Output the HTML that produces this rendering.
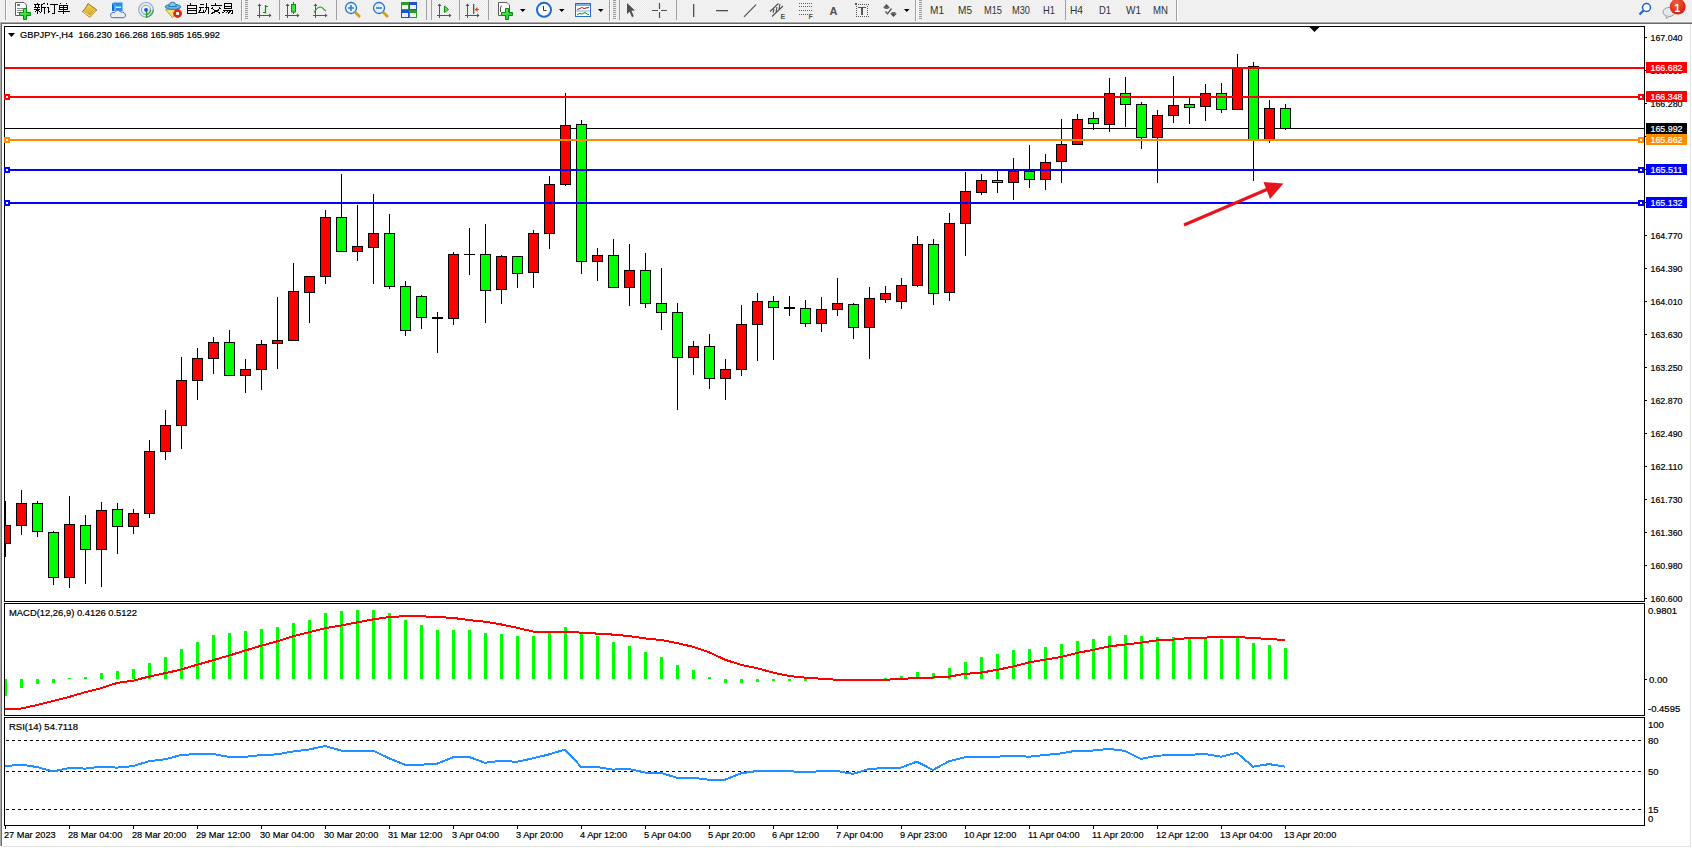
<!DOCTYPE html><html><head><meta charset="utf-8"><style>html,body{margin:0;padding:0;background:#f0f0f0;overflow:hidden;width:1692px;height:848px}svg{display:block}text{font-family:"Liberation Sans",sans-serif}</style></head><body>
<svg width="1692" height="848" viewBox="0 0 1692 848">
<rect x="0" y="0" width="1692" height="848" fill="#f0f0f0"/>
<g id="toolbar">
<defs>
<pattern id="chk" width="2" height="2" patternUnits="userSpaceOnUse"><rect width="2" height="2" fill="#f7f7f7"/><rect width="1" height="1" fill="#e9e9e9"/><rect x="1" y="1" width="1" height="1" fill="#e9e9e9"/></pattern>
<linearGradient id="gplus" x1="0" y1="0" x2="1" y2="1"><stop offset="0" stop-color="#7cf07c"/><stop offset="1" stop-color="#00c800"/></linearGradient>
<linearGradient id="gbook" x1="0" y1="0" x2="0" y2="1"><stop offset="0" stop-color="#f4dc50"/><stop offset="1" stop-color="#c89a20"/></linearGradient>
<radialGradient id="gbadge" cx="0.4" cy="0.3" r="0.7"><stop offset="0" stop-color="#f06040"/><stop offset="1" stop-color="#d42010"/></radialGradient>
</defs>
<!-- separators -->
<g fill="#a0a0a0" shape-rendering="crispEdges">
<rect x="5" y="0" width="1" height="20"/>
<rect x="241" y="0" width="1" height="21"/>
<rect x="279" y="0" width="1" height="20"/>
<rect x="336" y="0" width="1" height="20"/>
<rect x="426" y="0" width="1" height="20"/>
<rect x="431" y="0" width="1" height="20"/>
<rect x="459" y="0" width="1" height="20"/>
<rect x="488" y="0" width="1" height="20"/>
<rect x="609" y="0" width="1" height="21"/>
<rect x="619" y="0" width="1" height="20"/>
<rect x="676" y="0" width="1" height="20"/>
<rect x="915" y="0" width="1" height="21"/>
<rect x="1065" y="0" width="1" height="20"/>
<rect x="1176" y="0" width="1" height="21"/>
</g>
<g fill="#ffffff" shape-rendering="crispEdges">
<rect x="6" y="0" width="1" height="20"/><rect x="242" y="0" width="1" height="21"/><rect x="610" y="0" width="1" height="21"/><rect x="916" y="0" width="1" height="21"/><rect x="1177" y="0" width="1" height="21"/>
</g>
<!-- grips -->
<g fill="#9a9a9a" shape-rendering="crispEdges">
<rect x="245" y="0" width="3" height="1"/><rect x="245" y="2" width="3" height="1"/><rect x="245" y="4" width="3" height="1"/><rect x="245" y="6" width="3" height="1"/><rect x="245" y="8" width="3" height="1"/><rect x="245" y="10" width="3" height="1"/><rect x="245" y="12" width="3" height="1"/><rect x="245" y="14" width="3" height="1"/><rect x="245" y="16" width="3" height="1"/><rect x="245" y="18" width="3" height="1"/>
<rect x="613" y="0" width="3" height="1"/><rect x="613" y="2" width="3" height="1"/><rect x="613" y="4" width="3" height="1"/><rect x="613" y="6" width="3" height="1"/><rect x="613" y="8" width="3" height="1"/><rect x="613" y="10" width="3" height="1"/><rect x="613" y="12" width="3" height="1"/><rect x="613" y="14" width="3" height="1"/><rect x="613" y="16" width="3" height="1"/><rect x="613" y="18" width="3" height="1"/>
<rect x="919" y="0" width="3" height="1"/><rect x="919" y="2" width="3" height="1"/><rect x="919" y="4" width="3" height="1"/><rect x="919" y="6" width="3" height="1"/><rect x="919" y="8" width="3" height="1"/><rect x="919" y="10" width="3" height="1"/><rect x="919" y="12" width="3" height="1"/><rect x="919" y="14" width="3" height="1"/><rect x="919" y="16" width="3" height="1"/><rect x="919" y="18" width="3" height="1"/>
</g>
<!-- pressed backgrounds -->
<rect x="280" y="0" width="25" height="20" fill="url(#chk)"/>
<rect x="432" y="0" width="25" height="20" fill="url(#chk)"/>
<rect x="460" y="0" width="25" height="20" fill="url(#chk)"/>
<rect x="620" y="0" width="25" height="20" fill="url(#chk)"/>
<rect x="1066" y="0" width="25" height="20" fill="url(#chk)"/>

<!-- new order icon -->
<path d="M15.5,2.5 H24 L26.5,5 V15.5 H15.5 Z" fill="#fff" stroke="#5e5e5e" stroke-width="1"/>
<rect x="17" y="4" width="3" height="2" fill="#777"/>
<rect x="17" y="8" width="6" height="1" fill="#888"/><rect x="17" y="10" width="6" height="1" fill="#888"/><rect x="17" y="12" width="4" height="1" fill="#888"/>
<path d="M23.5,8.5 H26.5 V12.5 H30.5 V15.5 H26.5 V19.5 H23.5 V15.5 H19.5 V12.5 H23.5 Z" fill="url(#gplus)" stroke="#0a8a0a" stroke-width="1"/>
<!-- 新订单 -->
<g stroke="#000" stroke-width="1" fill="none" shape-rendering="crispEdges">
<path d="M37.5,3 V4.5 M34,4.5 H40 M35.5,5.5 L36,6.5 M38.5,5.5 L38,6.5 M34,7.5 H40 M34,9.5 H40 M37.5,7.5 V14 M36.5,10.5 L34.5,12.5 M38.5,10.5 L40,12"/>
<path d="M45,3.5 L41.5,4.5 V10 L40.5,13.5 M41.5,7.5 H45.5 M44.5,7.5 V14"/>
<path d="M47,3.5 L48,5 M46.5,7.5 H48.5 V12.5 L50,11"/>
<path d="M50,4.5 H58 M54.5,4.5 V13.5 H52"/>
<path d="M60.5,3 L61.5,4.5 M66.5,3 L65.5,4.5 M59.5,5.5 H67.5 V9.5 H59.5 Z M59.5,7.5 H67.5 M63.5,5.5 V14 M58,11.5 H70"/>
</g>
<!-- book icon -->
<path d="M88,3.5 L96.8,10 L90,17.3 L82.3,11.7 C84.5,9.5 86.5,7 88,3.5 Z" fill="url(#gbook)" stroke="#a86a10" stroke-width="1"/>
<path d="M83.5,12 L90,16.3" stroke="#f2dc90" stroke-width="1.2" fill="none"/>
<path d="M95.5,11 L90,16.5" stroke="#e8dca8" stroke-width="1" fill="none"/>
<!-- server/cloud icon -->
<path d="M112,3 L114.5,2.5 H122.5 V11 H112 Z" fill="#1a90f0"/>
<rect x="112" y="3" width="3" height="8" fill="#0a70d8"/>
<path d="M112.5,3 L115,5.5 V11" stroke="#e0f0ff" stroke-width="0.8" fill="none"/>
<rect x="116" y="6.5" width="5" height="1.5" fill="#d8ecff"/>
<path d="M110.5,15.5 C110.5,13 112.5,12 114.5,12.5 C115.5,10 119.5,9.5 120.5,12 C123,11.5 125.8,13 125.5,15.8 C125.3,17.3 124,17.7 123,17.7 H112.5 C111,17.7 110.5,16.8 110.5,15.5 Z" fill="#e8ecf4" stroke="#4a68a8" stroke-width="1"/>
<!-- signal icon -->
<path d="M146,9.8 V17.1 A7.3,7.3 0 0 0 153.3,9.8 Z" fill="#c0e4c0" opacity="0.8"/>
<g fill="none" stroke-width="1.1">
<circle cx="146" cy="9.8" r="7.3" stroke="#8aa8d8"/>
<circle cx="146" cy="9.8" r="4.6" stroke="#7aa0d0"/>
</g>
<path d="M146,17.1 A7.3,7.3 0 0 0 153.3,9.8 M146,14.4 A4.6,4.6 0 0 0 150.6,9.8" fill="none" stroke="#4a9a4a" stroke-width="1.1"/>
<path d="M146.5,10 V17.8" fill="none" stroke="#18a018" stroke-width="1.3"/>
<circle cx="146" cy="9.8" r="1.9" fill="#2050c0"/>
<!-- auto trading icon -->
<path d="M165.5,9.5 L179.5,8.5 L172.5,17.8 Z" fill="#f4e070" stroke="#c8a020" stroke-width="1"/>
<ellipse cx="173" cy="6.8" rx="7.8" ry="2.6" fill="#68b4e4" stroke="#2a7aa8" stroke-width="1"/>
<path d="M168.8,6.5 C169,3.5 170.5,2.2 172.5,2.2 C174.5,2.2 176,3.5 176.2,6.5 Z" fill="#7cc4ec" stroke="#2a7aa8" stroke-width="1"/>
<circle cx="177.6" cy="13.5" r="4.4" fill="#e02a10"/>
<rect x="176.2" y="12" width="2.8" height="3" fill="#fff"/>
<!-- 自动交易 -->
<g stroke="#000" stroke-width="1" fill="none" shape-rendering="crispEdges">
<path d="M190.5,3 V4.5 M187.5,5.5 H196.5 V13.5 H187.5 Z M187.5,8 H196.5 M187.5,10.5 H196.5"/>
<path d="M199.5,4.5 H203.5 M198.5,7.5 H204 M201,8.5 L199,12.5 H203.5 M203,10.5 L204,12 M204.5,7.5 H208.5 V13.5 H207.5 M206.5,3 V9 L204.5,13.5"/>
<path d="M215.5,3 V4.5 M210.5,5.5 H221.5 M213,7.5 L211.5,9 M219,7.5 L220.5,9 M213,9.5 L220.5,13.5 M219.5,9.5 L211.5,13.5"/>
<path d="M224.5,3.5 H231.5 V8.5 H224.5 Z M224.5,6 H231.5 M223,10 H232.5 V13.5 H231 M225.5,10.5 L222.5,13 M228.5,10.5 L225.5,13.5 M231,10.5 L228,13.5"/>
</g>
<!-- chart type icons -->
<g fill="none" stroke="#555" stroke-width="1.2" shape-rendering="crispEdges">
<path d="M259.5,4.5 V17.5 M257,15.5 H271"/>
<path d="M287.5,4.5 V17.5 M285,15.5 H299"/>
<path d="M315.5,4.5 V17.5 M313,15.5 H327"/>
<path d="M439.5,4.5 V17.5 M437,15.5 H451"/>
<path d="M467.5,4.5 V17.5 M465,15.5 H479"/>
</g>
<g fill="#555">
<path d="M257.5,6 L259.5,3.5 L261.5,6 Z M269,13.5 L271.5,15.5 L269,17.5 Z"/>
<path d="M285.5,6 L287.5,3.5 L289.5,6 Z M297,13.5 L299.5,15.5 L297,17.5 Z"/>
<path d="M313.5,6 L315.5,3.5 L317.5,6 Z M325,13.5 L327.5,15.5 L325,17.5 Z"/>
<path d="M437.5,6 L439.5,3.5 L441.5,6 Z M449,13.5 L451.5,15.5 L449,17.5 Z"/>
<path d="M465.5,6 L467.5,3.5 L469.5,6 Z M477,13.5 L479.5,15.5 L477,17.5 Z"/>
</g>
<path d="M265.5,5 V13.5 M263,12.5 H265.5 M265.5,6.5 H268" fill="none" stroke="#109010" stroke-width="1.2"/>
<rect x="293" y="2" width="1" height="12" fill="#109010"/>
<rect x="291.5" y="4.5" width="4" height="7.5" fill="#40e040" stroke="#109010" stroke-width="1"/>
<path d="M314,12.5 C316,9 318,7 320.5,7 C322.5,7 324,10 326,11" fill="none" stroke="#20a020" stroke-width="1.2"/>
<path d="M444.5,6 L448.5,9.5 L444.5,12.5 Z" fill="#50e050" stroke="#109010" stroke-width="1"/>
<rect x="473" y="4" width="1.3" height="10" fill="#1a6aa0"/>
<path d="M474.5,9.5 L477.5,7 V9 H479 V10 H477.5 V12 Z" fill="#e05010"/>
<!-- zoom icons -->
<g>
<circle cx="351" cy="8" r="5.5" fill="#dff2ff" stroke="#2a70c8" stroke-width="1.3"/>
<path d="M355,12 L360,17" stroke="#c8a020" stroke-width="2.6"/>
<path d="M348,8 H354 M351,5 V11" stroke="#3a80b8" stroke-width="1.6"/>
<circle cx="379" cy="8" r="5.5" fill="#dff2ff" stroke="#2a70c8" stroke-width="1.3"/>
<path d="M383,12 L388,17" stroke="#c8a020" stroke-width="2.6"/>
<path d="M376,8 H382" stroke="#3a80b8" stroke-width="1.6"/>
</g>
<!-- tile windows -->
<g shape-rendering="crispEdges">
<rect x="401" y="2" width="8" height="8" fill="#2a9a2a"/><rect x="409" y="2" width="8" height="8" fill="#2050d0"/>
<rect x="401" y="10" width="8" height="8" fill="#2050d0"/><rect x="409" y="10" width="8" height="8" fill="#2a9a2a"/>
<rect x="402" y="5" width="6" height="4" fill="#e8f8e8"/><rect x="410" y="5" width="6" height="4" fill="#e8eefc"/>
<rect x="402" y="13" width="6" height="4" fill="#e8eefc"/><rect x="410" y="13" width="6" height="4" fill="#e8f8e8"/>
</g>
<!-- indicators icon -->
<path d="M498.5,2.5 H507 L509.5,5 V15.5 H498.5 Z" fill="#fff" stroke="#5e5e5e" stroke-width="1"/>
<path d="M502,6 Q500.5,6 500.5,8 V12" fill="none" stroke="#555" stroke-width="1"/>
<path d="M505.5,8.5 H508.5 V12.5 H512.5 V15.5 H508.5 V19.5 H505.5 V15.5 H501.5 V12.5 H505.5 Z" fill="url(#gplus)" stroke="#0a8a0a" stroke-width="1"/>
<path d="M520,9 H525.5 L522.75,12 Z M559,9 H564.5 L561.75,12 Z M598,9 H603.5 L600.75,12 Z M904,9 H909.5 L906.75,12 Z" fill="#000"/>
<!-- clock -->
<circle cx="544" cy="9.8" r="7" fill="#fff" stroke="#1a6ad0" stroke-width="2"/>
<path d="M543.5,6 V10.5 H546.5" fill="none" stroke="#333" stroke-width="1"/>
<!-- templates -->
<rect x="575.5" y="3.5" width="15" height="13" fill="#fff" stroke="#2a6ac8" stroke-width="1"/>
<rect x="576" y="4" width="14" height="2" fill="#7ab0e8"/>
<rect x="576" y="10.5" width="14" height="1" fill="#7ab0e8"/>
<path d="M577,9.5 L580,8.5 L582,7.5 L584,8.5 L586,8 L589,7.5" fill="none" stroke="#a02010" stroke-width="1"/>
<path d="M577,14.5 L580,13.5 L582,14 L585,12.5 L587,14 L589,14.5" fill="none" stroke="#109010" stroke-width="1"/>
<!-- cursor -->
<path d="M627,3 L635,10.6 L631.5,10.8 L633.8,16.3 L632,17.2 L629.6,11.7 L627,14 Z" fill="#505050"/>
<!-- crosshair -->
<path d="M652,10.5 H658 M661,10.5 H667 M659.5,3 V9 M659.5,12 V18" fill="none" stroke="#505050" stroke-width="1.2"/>
<!-- line tools -->
<rect x="693" y="4" width="1.3" height="13" fill="#505050"/>
<rect x="716" y="10" width="12" height="1.3" fill="#505050"/>
<path d="M744,16.8 L756,4.6" stroke="#505050" stroke-width="1.2"/>
<path d="M770,11.5 L778.5,3.5 M772,16.5 L783,6 M773,13 L774,9 M776,12 L777,7 M779,9 L780,4" stroke="#505050" stroke-width="1.1" fill="none"/>
<text x="780.5" y="19" font-size="7" font-weight="bold" fill="#505050">E</text>
<g fill="#606060" shape-rendering="crispEdges">
<rect x="799" y="3" width="1" height="1"/><rect x="801" y="3" width="1" height="1"/><rect x="803" y="3" width="1" height="1"/><rect x="805" y="3" width="1" height="1"/><rect x="807" y="3" width="1" height="1"/><rect x="809" y="3" width="1" height="1"/><rect x="811" y="3" width="1" height="1"/>
<rect x="799" y="6" width="1" height="1"/><rect x="801" y="6" width="1" height="1"/><rect x="803" y="6" width="1" height="1"/><rect x="805" y="6" width="1" height="1"/><rect x="807" y="6" width="1" height="1"/><rect x="809" y="6" width="1" height="1"/><rect x="811" y="6" width="1" height="1"/>
<rect x="799" y="10" width="1" height="1"/><rect x="801" y="10" width="1" height="1"/><rect x="803" y="10" width="1" height="1"/><rect x="805" y="10" width="1" height="1"/><rect x="807" y="10" width="1" height="1"/><rect x="809" y="10" width="1" height="1"/><rect x="811" y="10" width="1" height="1"/>
<rect x="799" y="14" width="1" height="1"/><rect x="801" y="14" width="1" height="1"/><rect x="803" y="14" width="1" height="1"/><rect x="805" y="14" width="1" height="1"/><rect x="807" y="14" width="1" height="1"/>
</g>
<text x="808.5" y="19" font-size="7" font-weight="bold" fill="#505050">F</text>
<text x="829.5" y="15" font-size="11" font-weight="bold" fill="#505050">A</text>
<g fill="#555" shape-rendering="crispEdges"><rect x="856" y="4" width="1" height="1"/><rect x="856" y="16" width="1" height="1"/><rect x="858" y="4" width="1" height="1"/><rect x="858" y="16" width="1" height="1"/><rect x="860" y="4" width="1" height="1"/><rect x="860" y="16" width="1" height="1"/><rect x="862" y="4" width="1" height="1"/><rect x="862" y="16" width="1" height="1"/><rect x="864" y="4" width="1" height="1"/><rect x="864" y="16" width="1" height="1"/><rect x="866" y="4" width="1" height="1"/><rect x="866" y="16" width="1" height="1"/><rect x="868" y="4" width="1" height="1"/><rect x="868" y="16" width="1" height="1"/><rect x="856" y="6" width="1" height="1"/><rect x="867" y="6" width="1" height="1"/><rect x="856" y="8" width="1" height="1"/><rect x="867" y="8" width="1" height="1"/><rect x="856" y="10" width="1" height="1"/><rect x="867" y="10" width="1" height="1"/><rect x="856" y="12" width="1" height="1"/><rect x="867" y="12" width="1" height="1"/><rect x="856" y="14" width="1" height="1"/><rect x="867" y="14" width="1" height="1"/><rect x="855" y="3" width="2" height="2"/><rect x="858" y="7" width="8" height="1.3"/><rect x="861" y="7" width="2" height="8"/></g>
<path d="M883,7.8 L886.5,4 L890,7.8 Z M890,13.5 L897,13.5 L893.5,17 Z" fill="#505050"/><rect x="884.5" y="7.5" width="4" height="1.3" fill="#505050"/><rect x="891.5" y="12.2" width="4" height="1.5" fill="#505050"/>
<path d="M885.5,11.5 L887.5,13.8 L891.5,8.5" fill="none" stroke="#505050" stroke-width="1.3"/>
<!-- timeframes -->
<g font-size="10.5" fill="#333">
<text x="930" y="14" textLength="14" lengthAdjust="spacingAndGlyphs">M1</text>
<text x="958" y="14" textLength="14" lengthAdjust="spacingAndGlyphs">M5</text>
<text x="984" y="14" textLength="18" lengthAdjust="spacingAndGlyphs">M15</text>
<text x="1012" y="14" textLength="18" lengthAdjust="spacingAndGlyphs">M30</text>
<text x="1043" y="14" textLength="12" lengthAdjust="spacingAndGlyphs">H1</text>
<text x="1070" y="14" textLength="13" lengthAdjust="spacingAndGlyphs">H4</text>
<text x="1099" y="14" textLength="12" lengthAdjust="spacingAndGlyphs">D1</text>
<text x="1126" y="14" textLength="15" lengthAdjust="spacingAndGlyphs">W1</text>
<text x="1153" y="14" textLength="15" lengthAdjust="spacingAndGlyphs">MN</text>
</g>
<!-- search and chat -->
<circle cx="1646.5" cy="7.5" r="4" fill="#fff" stroke="#1f5fd6" stroke-width="1.5"/>
<path d="M1643.5,10.5 L1639.5,14.5" stroke="#1f5fd6" stroke-width="2.2"/>
<ellipse cx="1669" cy="12" rx="6" ry="4.5" fill="#e6e6ee" stroke="#9a9a9a" stroke-width="1"/>
<path d="M1666,16 L1666.5,18.5 L1669,16.3" fill="#e6e6ee" stroke="#9a9a9a" stroke-width="1"/>
<circle cx="1677.7" cy="6.6" r="8" fill="url(#gbadge)"/>
<text x="1674.5" y="11.5" font-size="10" font-weight="bold" fill="#fff" font-family="Liberation Serif">1</text>
</g>

<rect x="0" y="21" width="1692" height="1" fill="#f7f7f7"/>
<rect x="0" y="22" width="1692" height="1" fill="#a6a6a6"/>
<rect x="0" y="23" width="1692" height="1" fill="#6b6b6b"/>
<rect x="0" y="24" width="1692" height="824" fill="#ffffff"/>
<rect x="0" y="22" width="1" height="824" fill="#a9a9a9"/>
<rect x="1" y="23" width="1" height="823" fill="#6b6b6b"/>
<rect x="1690" y="24" width="1" height="823" fill="#e3e3e3"/>
<rect x="2" y="846" width="1689" height="1" fill="#e3e3e3"/>
<rect x="4.5" y="26.5" width="1640" height="575" fill="none" stroke="#000" stroke-width="1" shape-rendering="crispEdges"/>
<rect x="4.5" y="603.5" width="1640" height="112" fill="none" stroke="#000" stroke-width="1" shape-rendering="crispEdges"/>
<rect x="4.5" y="717.5" width="1640" height="108" fill="none" stroke="#000" stroke-width="1" shape-rendering="crispEdges"/>
<defs><clipPath id="cm"><rect x="5" y="27" width="1639" height="574"/></clipPath><clipPath id="cmacd"><rect x="5" y="604" width="1639" height="111"/></clipPath><clipPath id="crsi"><rect x="5" y="718" width="1639" height="107"/></clipPath></defs>
<g clip-path="url(#cm)" shape-rendering="crispEdges">
<rect x="5" y="128" width="1639" height="1" fill="#000"/>
<rect x="5" y="501" width="1" height="56" fill="#000"/>
<rect x="0.5" y="525.5" width="10" height="18" fill="#ff0000" stroke="#000" stroke-width="1"/>
<rect x="21" y="490" width="1" height="45" fill="#000"/>
<rect x="16.5" y="503.5" width="10" height="22" fill="#ff0000" stroke="#000" stroke-width="1"/>
<rect x="37" y="501" width="1" height="36" fill="#000"/>
<rect x="32.5" y="503.5" width="10" height="28" fill="#00ff00" stroke="#000" stroke-width="1"/>
<rect x="53" y="531" width="1" height="54" fill="#000"/>
<rect x="48.5" y="532.5" width="10" height="45" fill="#00ff00" stroke="#000" stroke-width="1"/>
<rect x="69" y="496" width="1" height="92" fill="#000"/>
<rect x="64.5" y="524.5" width="10" height="53" fill="#ff0000" stroke="#000" stroke-width="1"/>
<rect x="85" y="515" width="1" height="69" fill="#000"/>
<rect x="80.5" y="525.5" width="10" height="24" fill="#00ff00" stroke="#000" stroke-width="1"/>
<rect x="101" y="502" width="1" height="85" fill="#000"/>
<rect x="96.5" y="510.5" width="10" height="39" fill="#ff0000" stroke="#000" stroke-width="1"/>
<rect x="117" y="503" width="1" height="51" fill="#000"/>
<rect x="112.5" y="509.5" width="10" height="17" fill="#00ff00" stroke="#000" stroke-width="1"/>
<rect x="133" y="509" width="1" height="25" fill="#000"/>
<rect x="128.5" y="513.5" width="10" height="13" fill="#ff0000" stroke="#000" stroke-width="1"/>
<rect x="149" y="440" width="1" height="78" fill="#000"/>
<rect x="144.5" y="451.5" width="10" height="62" fill="#ff0000" stroke="#000" stroke-width="1"/>
<rect x="165" y="410" width="1" height="50" fill="#000"/>
<rect x="160.5" y="425.5" width="10" height="26" fill="#ff0000" stroke="#000" stroke-width="1"/>
<rect x="181" y="357" width="1" height="92" fill="#000"/>
<rect x="176.5" y="380.5" width="10" height="45" fill="#ff0000" stroke="#000" stroke-width="1"/>
<rect x="197" y="348" width="1" height="52" fill="#000"/>
<rect x="192.5" y="358.5" width="10" height="22" fill="#ff0000" stroke="#000" stroke-width="1"/>
<rect x="213" y="337" width="1" height="37" fill="#000"/>
<rect x="208.5" y="342.5" width="10" height="16" fill="#ff0000" stroke="#000" stroke-width="1"/>
<rect x="229" y="330" width="1" height="45" fill="#000"/>
<rect x="224.5" y="342.5" width="10" height="33" fill="#00ff00" stroke="#000" stroke-width="1"/>
<rect x="245" y="359" width="1" height="34" fill="#000"/>
<rect x="240.5" y="369.5" width="10" height="6" fill="#ff0000" stroke="#000" stroke-width="1"/>
<rect x="261" y="340" width="1" height="50" fill="#000"/>
<rect x="256.5" y="344.5" width="10" height="25" fill="#ff0000" stroke="#000" stroke-width="1"/>
<rect x="277" y="297" width="1" height="72" fill="#000"/>
<rect x="272.5" y="340.5" width="10" height="3" fill="#ff0000" stroke="#000" stroke-width="1"/>
<rect x="293" y="263" width="1" height="77" fill="#000"/>
<rect x="288.5" y="291.5" width="10" height="49" fill="#ff0000" stroke="#000" stroke-width="1"/>
<rect x="309" y="276" width="1" height="47" fill="#000"/>
<rect x="304.5" y="276.5" width="10" height="16" fill="#ff0000" stroke="#000" stroke-width="1"/>
<rect x="325" y="210" width="1" height="74" fill="#000"/>
<rect x="320.5" y="217.5" width="10" height="59" fill="#ff0000" stroke="#000" stroke-width="1"/>
<rect x="341" y="174" width="1" height="77" fill="#000"/>
<rect x="336.5" y="217.5" width="10" height="34" fill="#00ff00" stroke="#000" stroke-width="1"/>
<rect x="357" y="205" width="1" height="56" fill="#000"/>
<rect x="352.5" y="246.5" width="10" height="5" fill="#ff0000" stroke="#000" stroke-width="1"/>
<rect x="373" y="194" width="1" height="90" fill="#000"/>
<rect x="368.5" y="233.5" width="10" height="14" fill="#ff0000" stroke="#000" stroke-width="1"/>
<rect x="389" y="214" width="1" height="75" fill="#000"/>
<rect x="384.5" y="233.5" width="10" height="53" fill="#00ff00" stroke="#000" stroke-width="1"/>
<rect x="405" y="281" width="1" height="55" fill="#000"/>
<rect x="400.5" y="286.5" width="10" height="44" fill="#00ff00" stroke="#000" stroke-width="1"/>
<rect x="421" y="295" width="1" height="34" fill="#000"/>
<rect x="416.5" y="296.5" width="10" height="21" fill="#00ff00" stroke="#000" stroke-width="1"/>
<rect x="437" y="312" width="1" height="41" fill="#000"/>
<rect x="432" y="317" width="11" height="2" fill="#000"/>
<rect x="453" y="252" width="1" height="73" fill="#000"/>
<rect x="448.5" y="254.5" width="10" height="64" fill="#ff0000" stroke="#000" stroke-width="1"/>
<rect x="469" y="228" width="1" height="47" fill="#000"/>
<rect x="464" y="254" width="11" height="1" fill="#000"/>
<rect x="485" y="224" width="1" height="99" fill="#000"/>
<rect x="480.5" y="254.5" width="10" height="36" fill="#00ff00" stroke="#000" stroke-width="1"/>
<rect x="501" y="255" width="1" height="49" fill="#000"/>
<rect x="496.5" y="256.5" width="10" height="33" fill="#ff0000" stroke="#000" stroke-width="1"/>
<rect x="517" y="256" width="1" height="32" fill="#000"/>
<rect x="512.5" y="256.5" width="10" height="17" fill="#00ff00" stroke="#000" stroke-width="1"/>
<rect x="533" y="230" width="1" height="58" fill="#000"/>
<rect x="528.5" y="233.5" width="10" height="39" fill="#ff0000" stroke="#000" stroke-width="1"/>
<rect x="549" y="176" width="1" height="73" fill="#000"/>
<rect x="544.5" y="184.5" width="10" height="49" fill="#ff0000" stroke="#000" stroke-width="1"/>
<rect x="565" y="93" width="1" height="93" fill="#000"/>
<rect x="560.5" y="125.5" width="10" height="59" fill="#ff0000" stroke="#000" stroke-width="1"/>
<rect x="581" y="120" width="1" height="154" fill="#000"/>
<rect x="576.5" y="124.5" width="10" height="137" fill="#00ff00" stroke="#000" stroke-width="1"/>
<rect x="597" y="248" width="1" height="33" fill="#000"/>
<rect x="592.5" y="255.5" width="10" height="6" fill="#ff0000" stroke="#000" stroke-width="1"/>
<rect x="613" y="239" width="1" height="48" fill="#000"/>
<rect x="608.5" y="255.5" width="10" height="32" fill="#00ff00" stroke="#000" stroke-width="1"/>
<rect x="629" y="244" width="1" height="62" fill="#000"/>
<rect x="624.5" y="270.5" width="10" height="17" fill="#ff0000" stroke="#000" stroke-width="1"/>
<rect x="645" y="253" width="1" height="55" fill="#000"/>
<rect x="640.5" y="270.5" width="10" height="33" fill="#00ff00" stroke="#000" stroke-width="1"/>
<rect x="661" y="268" width="1" height="62" fill="#000"/>
<rect x="656.5" y="303.5" width="10" height="9" fill="#00ff00" stroke="#000" stroke-width="1"/>
<rect x="677" y="303" width="1" height="107" fill="#000"/>
<rect x="672.5" y="312.5" width="10" height="45" fill="#00ff00" stroke="#000" stroke-width="1"/>
<rect x="693" y="341" width="1" height="34" fill="#000"/>
<rect x="688.5" y="346.5" width="10" height="11" fill="#ff0000" stroke="#000" stroke-width="1"/>
<rect x="709" y="334" width="1" height="55" fill="#000"/>
<rect x="704.5" y="346.5" width="10" height="32" fill="#00ff00" stroke="#000" stroke-width="1"/>
<rect x="725" y="359" width="1" height="41" fill="#000"/>
<rect x="720.5" y="369.5" width="10" height="9" fill="#ff0000" stroke="#000" stroke-width="1"/>
<rect x="741" y="305" width="1" height="71" fill="#000"/>
<rect x="736.5" y="324.5" width="10" height="45" fill="#ff0000" stroke="#000" stroke-width="1"/>
<rect x="757" y="293" width="1" height="68" fill="#000"/>
<rect x="752.5" y="301.5" width="10" height="23" fill="#ff0000" stroke="#000" stroke-width="1"/>
<rect x="773" y="296" width="1" height="64" fill="#000"/>
<rect x="768.5" y="301.5" width="10" height="6" fill="#00ff00" stroke="#000" stroke-width="1"/>
<rect x="789" y="296" width="1" height="20" fill="#000"/>
<rect x="784" y="307" width="11" height="2" fill="#000"/>
<rect x="805" y="300" width="1" height="27" fill="#000"/>
<rect x="800.5" y="308.5" width="10" height="15" fill="#00ff00" stroke="#000" stroke-width="1"/>
<rect x="821" y="297" width="1" height="35" fill="#000"/>
<rect x="816.5" y="309.5" width="10" height="14" fill="#ff0000" stroke="#000" stroke-width="1"/>
<rect x="837" y="278" width="1" height="38" fill="#000"/>
<rect x="832.5" y="303.5" width="10" height="6" fill="#ff0000" stroke="#000" stroke-width="1"/>
<rect x="853" y="303" width="1" height="36" fill="#000"/>
<rect x="848.5" y="304.5" width="10" height="23" fill="#00ff00" stroke="#000" stroke-width="1"/>
<rect x="869" y="287" width="1" height="72" fill="#000"/>
<rect x="864.5" y="298.5" width="10" height="29" fill="#ff0000" stroke="#000" stroke-width="1"/>
<rect x="885" y="286" width="1" height="17" fill="#000"/>
<rect x="880.5" y="293.5" width="10" height="6" fill="#ff0000" stroke="#000" stroke-width="1"/>
<rect x="901" y="278" width="1" height="31" fill="#000"/>
<rect x="896.5" y="285.5" width="10" height="16" fill="#ff0000" stroke="#000" stroke-width="1"/>
<rect x="917" y="236" width="1" height="51" fill="#000"/>
<rect x="912.5" y="244.5" width="10" height="41" fill="#ff0000" stroke="#000" stroke-width="1"/>
<rect x="933" y="239" width="1" height="66" fill="#000"/>
<rect x="928.5" y="244.5" width="10" height="49" fill="#00ff00" stroke="#000" stroke-width="1"/>
<rect x="949" y="213" width="1" height="88" fill="#000"/>
<rect x="944.5" y="223.5" width="10" height="69" fill="#ff0000" stroke="#000" stroke-width="1"/>
<rect x="965" y="172" width="1" height="84" fill="#000"/>
<rect x="960.5" y="191.5" width="10" height="32" fill="#ff0000" stroke="#000" stroke-width="1"/>
<rect x="981" y="174" width="1" height="21" fill="#000"/>
<rect x="976.5" y="180.5" width="10" height="12" fill="#ff0000" stroke="#000" stroke-width="1"/>
<rect x="997" y="171" width="1" height="22" fill="#000"/>
<rect x="992.5" y="180.5" width="10" height="2" fill="#00ff00" stroke="#000" stroke-width="1"/>
<rect x="1013" y="158" width="1" height="42" fill="#000"/>
<rect x="1008.5" y="171.5" width="10" height="11" fill="#ff0000" stroke="#000" stroke-width="1"/>
<rect x="1029" y="145" width="1" height="43" fill="#000"/>
<rect x="1024.5" y="171.5" width="10" height="8" fill="#00ff00" stroke="#000" stroke-width="1"/>
<rect x="1045" y="154" width="1" height="36" fill="#000"/>
<rect x="1040.5" y="162.5" width="10" height="17" fill="#ff0000" stroke="#000" stroke-width="1"/>
<rect x="1061" y="119" width="1" height="64" fill="#000"/>
<rect x="1056.5" y="144.5" width="10" height="17" fill="#ff0000" stroke="#000" stroke-width="1"/>
<rect x="1077" y="114" width="1" height="30" fill="#000"/>
<rect x="1072.5" y="119.5" width="10" height="25" fill="#ff0000" stroke="#000" stroke-width="1"/>
<rect x="1093" y="112" width="1" height="18" fill="#000"/>
<rect x="1088.5" y="118.5" width="10" height="5" fill="#00ff00" stroke="#000" stroke-width="1"/>
<rect x="1109" y="78" width="1" height="54" fill="#000"/>
<rect x="1104.5" y="93.5" width="10" height="31" fill="#ff0000" stroke="#000" stroke-width="1"/>
<rect x="1125" y="77" width="1" height="50" fill="#000"/>
<rect x="1120.5" y="93.5" width="10" height="11" fill="#00ff00" stroke="#000" stroke-width="1"/>
<rect x="1141" y="102" width="1" height="47" fill="#000"/>
<rect x="1136.5" y="104.5" width="10" height="33" fill="#00ff00" stroke="#000" stroke-width="1"/>
<rect x="1157" y="110" width="1" height="73" fill="#000"/>
<rect x="1152.5" y="115.5" width="10" height="22" fill="#ff0000" stroke="#000" stroke-width="1"/>
<rect x="1173" y="76" width="1" height="47" fill="#000"/>
<rect x="1168.5" y="105.5" width="10" height="10" fill="#ff0000" stroke="#000" stroke-width="1"/>
<rect x="1189" y="98" width="1" height="26" fill="#000"/>
<rect x="1184.5" y="104.5" width="10" height="3" fill="#00ff00" stroke="#000" stroke-width="1"/>
<rect x="1205" y="84" width="1" height="37" fill="#000"/>
<rect x="1200.5" y="93.5" width="10" height="13" fill="#ff0000" stroke="#000" stroke-width="1"/>
<rect x="1221" y="83" width="1" height="30" fill="#000"/>
<rect x="1216.5" y="93.5" width="10" height="16" fill="#00ff00" stroke="#000" stroke-width="1"/>
<rect x="1237" y="54" width="1" height="55" fill="#000"/>
<rect x="1232.5" y="67.5" width="10" height="42" fill="#ff0000" stroke="#000" stroke-width="1"/>
<rect x="1253" y="62" width="1" height="119" fill="#000"/>
<rect x="1248.5" y="66.5" width="10" height="73" fill="#00ff00" stroke="#000" stroke-width="1"/>
<rect x="1269" y="100" width="1" height="43" fill="#000"/>
<rect x="1264.5" y="108.5" width="10" height="31" fill="#ff0000" stroke="#000" stroke-width="1"/>
<rect x="1285" y="104" width="1" height="26" fill="#000"/>
<rect x="1280.5" y="108.5" width="10" height="20" fill="#00ff00" stroke="#000" stroke-width="1"/>
<rect x="5" y="67" width="1639" height="2" fill="#ff0000"/>
<rect x="5" y="96" width="1639" height="2" fill="#ff0000"/>
<rect x="1638" y="94" width="6" height="6" fill="#ff0000"/><rect x="1640" y="96" width="2" height="2" fill="#fff"/>
<rect x="5" y="139" width="1639" height="2" fill="#ff8c00"/>
<rect x="1638" y="137" width="6" height="6" fill="#ff8c00"/><rect x="1640" y="139" width="2" height="2" fill="#fff"/>
<rect x="5" y="169" width="1639" height="2" fill="#0000ff"/>
<rect x="1638" y="167" width="6" height="6" fill="#0000ff"/><rect x="1640" y="169" width="2" height="2" fill="#fff"/>
<rect x="5" y="202" width="1639" height="2" fill="#0000ff"/>
<rect x="1638" y="200" width="6" height="6" fill="#0000ff"/><rect x="1640" y="202" width="2" height="2" fill="#fff"/>
<polygon points="1309.5,27 1319.5,27 1314.5,32" fill="#000" shape-rendering="auto"/>
</g>
<g shape-rendering="crispEdges"><rect x="4" y="94" width="6" height="6" fill="#ff0000"/><rect x="6" y="96" width="2" height="2" fill="#fff"/><rect x="4" y="137" width="6" height="6" fill="#ff8c00"/><rect x="6" y="139" width="2" height="2" fill="#fff"/><rect x="4" y="167" width="6" height="6" fill="#0000ff"/><rect x="6" y="169" width="2" height="2" fill="#fff"/><rect x="4" y="200" width="6" height="6" fill="#0000ff"/><rect x="6" y="202" width="2" height="2" fill="#fff"/></g>
<g shape-rendering="auto"><line x1="1184" y1="225" x2="1268" y2="189" stroke="#e8141c" stroke-width="3"/><polygon points="1263.5,182 1283.5,183.5 1270,199" fill="#e8141c"/></g>
<polygon points="8,33 15,33 11.5,37" fill="#000"/>
<text x="20" y="38" font-size="9.5" fill="#000" stroke="#000" stroke-width="0.2" textLength="200" lengthAdjust="spacingAndGlyphs">GBPJPY-,H4&#160; 166.230 166.268 165.985 165.992</text>
<rect x="1645" y="37" width="2" height="1" fill="#000"/>
<text x="1650.5" y="41" font-size="9.5" fill="#000" stroke="#000" stroke-width="0.2" textLength="32" lengthAdjust="spacingAndGlyphs">167.040</text>
<rect x="1645" y="70" width="2" height="1" fill="#000"/>
<text x="1650.5" y="74" font-size="9.5" fill="#000" stroke="#000" stroke-width="0.2" textLength="32" lengthAdjust="spacingAndGlyphs">166.660</text>
<rect x="1645" y="103" width="2" height="1" fill="#000"/>
<text x="1650.5" y="107" font-size="9.5" fill="#000" stroke="#000" stroke-width="0.2" textLength="32" lengthAdjust="spacingAndGlyphs">166.280</text>
<rect x="1645" y="136" width="2" height="1" fill="#000"/>
<text x="1650.5" y="140" font-size="9.5" fill="#000" stroke="#000" stroke-width="0.2" textLength="32" lengthAdjust="spacingAndGlyphs">165.900</text>
<rect x="1645" y="169" width="2" height="1" fill="#000"/>
<text x="1650.5" y="173" font-size="9.5" fill="#000" stroke="#000" stroke-width="0.2" textLength="32" lengthAdjust="spacingAndGlyphs">165.520</text>
<rect x="1645" y="202" width="2" height="1" fill="#000"/>
<text x="1650.5" y="206" font-size="9.5" fill="#000" stroke="#000" stroke-width="0.2" textLength="32" lengthAdjust="spacingAndGlyphs">165.140</text>
<rect x="1645" y="235" width="2" height="1" fill="#000"/>
<text x="1650.5" y="239" font-size="9.5" fill="#000" stroke="#000" stroke-width="0.2" textLength="32" lengthAdjust="spacingAndGlyphs">164.770</text>
<rect x="1645" y="268" width="2" height="1" fill="#000"/>
<text x="1650.5" y="272" font-size="9.5" fill="#000" stroke="#000" stroke-width="0.2" textLength="32" lengthAdjust="spacingAndGlyphs">164.390</text>
<rect x="1645" y="301" width="2" height="1" fill="#000"/>
<text x="1650.5" y="305" font-size="9.5" fill="#000" stroke="#000" stroke-width="0.2" textLength="32" lengthAdjust="spacingAndGlyphs">164.010</text>
<rect x="1645" y="334" width="2" height="1" fill="#000"/>
<text x="1650.5" y="338" font-size="9.5" fill="#000" stroke="#000" stroke-width="0.2" textLength="32" lengthAdjust="spacingAndGlyphs">163.630</text>
<rect x="1645" y="367" width="2" height="1" fill="#000"/>
<text x="1650.5" y="371" font-size="9.5" fill="#000" stroke="#000" stroke-width="0.2" textLength="32" lengthAdjust="spacingAndGlyphs">163.250</text>
<rect x="1645" y="400" width="2" height="1" fill="#000"/>
<text x="1650.5" y="404" font-size="9.5" fill="#000" stroke="#000" stroke-width="0.2" textLength="32" lengthAdjust="spacingAndGlyphs">162.870</text>
<rect x="1645" y="433" width="2" height="1" fill="#000"/>
<text x="1650.5" y="437" font-size="9.5" fill="#000" stroke="#000" stroke-width="0.2" textLength="32" lengthAdjust="spacingAndGlyphs">162.490</text>
<rect x="1645" y="466" width="2" height="1" fill="#000"/>
<text x="1650.5" y="470" font-size="9.5" fill="#000" stroke="#000" stroke-width="0.2" textLength="32" lengthAdjust="spacingAndGlyphs">162.110</text>
<rect x="1645" y="499" width="2" height="1" fill="#000"/>
<text x="1650.5" y="503" font-size="9.5" fill="#000" stroke="#000" stroke-width="0.2" textLength="32" lengthAdjust="spacingAndGlyphs">161.730</text>
<rect x="1645" y="532" width="2" height="1" fill="#000"/>
<text x="1650.5" y="536" font-size="9.5" fill="#000" stroke="#000" stroke-width="0.2" textLength="32" lengthAdjust="spacingAndGlyphs">161.360</text>
<rect x="1645" y="565" width="2" height="1" fill="#000"/>
<text x="1650.5" y="569" font-size="9.5" fill="#000" stroke="#000" stroke-width="0.2" textLength="32" lengthAdjust="spacingAndGlyphs">160.980</text>
<rect x="1645" y="598" width="2" height="1" fill="#000"/>
<text x="1650.5" y="602" font-size="9.5" fill="#000" stroke="#000" stroke-width="0.2" textLength="32" lengthAdjust="spacingAndGlyphs">160.600</text>
<rect x="1646" y="62" width="41" height="11" fill="#ff0000"/>
<text x="1650.5" y="71" font-size="9.5" fill="#fff" stroke="#fff" stroke-width="0.2" textLength="32" lengthAdjust="spacingAndGlyphs">166.682</text>
<rect x="1646" y="91" width="41" height="11" fill="#ff0000"/>
<text x="1650.5" y="100" font-size="9.5" fill="#fff" stroke="#fff" stroke-width="0.2" textLength="32" lengthAdjust="spacingAndGlyphs">166.348</text>
<rect x="1646" y="123" width="41" height="11" fill="#000000"/>
<text x="1650.5" y="132" font-size="9.5" fill="#fff" stroke="#fff" stroke-width="0.2" textLength="32" lengthAdjust="spacingAndGlyphs">165.992</text>
<rect x="1646" y="134" width="41" height="11" fill="#ff8c00"/>
<text x="1650.5" y="143" font-size="9.5" fill="#fff" stroke="#fff" stroke-width="0.2" textLength="32" lengthAdjust="spacingAndGlyphs">165.862</text>
<rect x="1646" y="164" width="41" height="11" fill="#0000ff"/>
<text x="1650.5" y="173" font-size="9.5" fill="#fff" stroke="#fff" stroke-width="0.2" textLength="32" lengthAdjust="spacingAndGlyphs">165.511</text>
<rect x="1646" y="197" width="41" height="11" fill="#0000ff"/>
<text x="1650.5" y="206" font-size="9.5" fill="#fff" stroke="#fff" stroke-width="0.2" textLength="32" lengthAdjust="spacingAndGlyphs">165.132</text>
<g clip-path="url(#cmacd)" shape-rendering="crispEdges">
<rect x="4" y="679" width="3" height="17" fill="#00ff00"/>
<rect x="20" y="679" width="3" height="9" fill="#00ff00"/>
<rect x="36" y="679" width="3" height="5" fill="#00ff00"/>
<rect x="52" y="679" width="3" height="4" fill="#00ff00"/>
<rect x="68" y="678" width="3" height="1" fill="#00ff00"/>
<rect x="84" y="677" width="3" height="2" fill="#00ff00"/>
<rect x="100" y="673" width="3" height="6" fill="#00ff00"/>
<rect x="116" y="671" width="3" height="8" fill="#00ff00"/>
<rect x="132" y="669" width="3" height="10" fill="#00ff00"/>
<rect x="148" y="663" width="3" height="16" fill="#00ff00"/>
<rect x="164" y="657" width="3" height="22" fill="#00ff00"/>
<rect x="180" y="649" width="3" height="30" fill="#00ff00"/>
<rect x="196" y="642" width="3" height="37" fill="#00ff00"/>
<rect x="212" y="635" width="3" height="44" fill="#00ff00"/>
<rect x="228" y="633" width="3" height="46" fill="#00ff00"/>
<rect x="244" y="631" width="3" height="48" fill="#00ff00"/>
<rect x="260" y="629" width="3" height="50" fill="#00ff00"/>
<rect x="276" y="627" width="3" height="52" fill="#00ff00"/>
<rect x="292" y="623" width="3" height="56" fill="#00ff00"/>
<rect x="308" y="620" width="3" height="59" fill="#00ff00"/>
<rect x="324" y="613" width="3" height="66" fill="#00ff00"/>
<rect x="340" y="611" width="3" height="68" fill="#00ff00"/>
<rect x="356" y="610" width="3" height="69" fill="#00ff00"/>
<rect x="372" y="610" width="3" height="69" fill="#00ff00"/>
<rect x="388" y="613" width="3" height="66" fill="#00ff00"/>
<rect x="404" y="620" width="3" height="59" fill="#00ff00"/>
<rect x="420" y="625" width="3" height="54" fill="#00ff00"/>
<rect x="436" y="630" width="3" height="49" fill="#00ff00"/>
<rect x="452" y="630" width="3" height="49" fill="#00ff00"/>
<rect x="468" y="630" width="3" height="49" fill="#00ff00"/>
<rect x="484" y="633" width="3" height="46" fill="#00ff00"/>
<rect x="500" y="634" width="3" height="45" fill="#00ff00"/>
<rect x="516" y="636" width="3" height="43" fill="#00ff00"/>
<rect x="532" y="636" width="3" height="43" fill="#00ff00"/>
<rect x="548" y="633" width="3" height="46" fill="#00ff00"/>
<rect x="564" y="627" width="3" height="52" fill="#00ff00"/>
<rect x="580" y="633" width="3" height="46" fill="#00ff00"/>
<rect x="596" y="636" width="3" height="43" fill="#00ff00"/>
<rect x="612" y="642" width="3" height="37" fill="#00ff00"/>
<rect x="628" y="646" width="3" height="33" fill="#00ff00"/>
<rect x="644" y="652" width="3" height="27" fill="#00ff00"/>
<rect x="660" y="657" width="3" height="22" fill="#00ff00"/>
<rect x="676" y="665" width="3" height="14" fill="#00ff00"/>
<rect x="692" y="670" width="3" height="9" fill="#00ff00"/>
<rect x="708" y="677" width="3" height="2" fill="#00ff00"/>
<rect x="724" y="679" width="3" height="4" fill="#00ff00"/>
<rect x="740" y="679" width="3" height="4" fill="#00ff00"/>
<rect x="756" y="679" width="3" height="3" fill="#00ff00"/>
<rect x="772" y="679" width="3" height="2" fill="#00ff00"/>
<rect x="788" y="679" width="3" height="2" fill="#00ff00"/>
<rect x="804" y="679" width="3" height="2" fill="#00ff00"/>
<rect x="820" y="679" width="3" height="1" fill="#00ff00"/>
<rect x="836" y="679" width="3" height="1" fill="#00ff00"/>
<rect x="852" y="679" width="3" height="1" fill="#00ff00"/>
<rect x="868" y="679" width="3" height="1" fill="#00ff00"/>
<rect x="884" y="678" width="3" height="1" fill="#00ff00"/>
<rect x="900" y="676" width="3" height="3" fill="#00ff00"/>
<rect x="916" y="672" width="3" height="7" fill="#00ff00"/>
<rect x="932" y="673" width="3" height="6" fill="#00ff00"/>
<rect x="948" y="668" width="3" height="11" fill="#00ff00"/>
<rect x="964" y="662" width="3" height="17" fill="#00ff00"/>
<rect x="980" y="657" width="3" height="22" fill="#00ff00"/>
<rect x="996" y="654" width="3" height="25" fill="#00ff00"/>
<rect x="1012" y="650" width="3" height="29" fill="#00ff00"/>
<rect x="1028" y="649" width="3" height="30" fill="#00ff00"/>
<rect x="1044" y="647" width="3" height="32" fill="#00ff00"/>
<rect x="1060" y="644" width="3" height="35" fill="#00ff00"/>
<rect x="1076" y="641" width="3" height="38" fill="#00ff00"/>
<rect x="1092" y="639" width="3" height="40" fill="#00ff00"/>
<rect x="1108" y="636" width="3" height="43" fill="#00ff00"/>
<rect x="1124" y="635" width="3" height="44" fill="#00ff00"/>
<rect x="1140" y="636" width="3" height="43" fill="#00ff00"/>
<rect x="1156" y="637" width="3" height="42" fill="#00ff00"/>
<rect x="1172" y="637" width="3" height="42" fill="#00ff00"/>
<rect x="1188" y="639" width="3" height="40" fill="#00ff00"/>
<rect x="1204" y="638" width="3" height="41" fill="#00ff00"/>
<rect x="1220" y="639" width="3" height="40" fill="#00ff00"/>
<rect x="1236" y="638" width="3" height="41" fill="#00ff00"/>
<rect x="1252" y="643" width="3" height="36" fill="#00ff00"/>
<rect x="1268" y="645" width="3" height="34" fill="#00ff00"/>
<rect x="1284" y="648" width="3" height="31" fill="#00ff00"/>
<polyline points="0,709.6 21,708.5 37,705.1 53,701 69,697 85,692.2 101,688.2 117,683 133,680.7 149,676.6 165,673.2 181,669.6 197,664.8 213,660.2 229,655.6 245,650.5 261,645.8 277,641.4 293,636.3 309,632.3 325,628.2 341,625.5 357,622.4 373,619.4 389,617 405,616.2 421,616.3 437,617 453,617.9 469,620.1 485,621.7 501,624.4 517,627.8 533,631.5 549,631.9 565,631.9 581,632.6 597,633.6 613,634.6 629,636 645,638.4 661,640 677,643.1 693,646.8 709,652.2 725,659.7 741,664.8 757,668.2 773,672.6 789,676 805,677.6 821,678.7 837,679.8 885,679.8 901,678.9 917,678 933,677.5 949,676.6 965,673.9 981,672.6 997,669.9 1013,666.5 1029,662.4 1045,659.7 1061,657 1077,652.9 1093,649.9 1109,646.4 1125,644.5 1141,642.7 1157,640.4 1173,639.6 1189,638 1205,637.6 1221,636.9 1237,637 1253,638 1269,639 1285,640" fill="none" stroke="#ff0000" stroke-width="2" shape-rendering="crispEdges"/>
</g>
<text x="9" y="616" font-size="9.5" fill="#000" stroke="#000" stroke-width="0.2" textLength="128" lengthAdjust="spacingAndGlyphs">MACD(12,26,9) 0.4126 0.5122</text>
<text x="1648" y="614" font-size="9.5" fill="#000" stroke="#000" stroke-width="0.2">0.9801</text>
<rect x="1645" y="679" width="2" height="1" fill="#000"/>
<text x="1649" y="683" font-size="9.5" fill="#000" stroke="#000" stroke-width="0.2">0.00</text>
<text x="1648" y="712" font-size="9.5" fill="#000" stroke="#000" stroke-width="0.2">-0.4595</text>
<g clip-path="url(#crsi)">
<line x1="6" y1="740.5" x2="1644" y2="740.5" stroke="#000" stroke-width="1" stroke-dasharray="3,3" shape-rendering="crispEdges"/>
<line x1="6" y1="771.5" x2="1644" y2="771.5" stroke="#000" stroke-width="1" stroke-dasharray="3,3" shape-rendering="crispEdges"/>
<line x1="6" y1="809.5" x2="1644" y2="809.5" stroke="#000" stroke-width="1" stroke-dasharray="3,3" shape-rendering="crispEdges"/>
<polyline points="5,766.1 21,764.7 37,767 53,771.5 69,768 85,768.6 101,766.7 117,767.6 133,766.1 149,761.2 165,759.3 181,755 197,754 213,754 229,756.9 245,756.9 261,755 277,754.4 293,751.5 309,749.5 325,746 341,750.5 357,750.5 373,750.5 389,758.3 405,764.7 421,764.7 437,763.7 453,757.3 469,756.9 485,762.8 501,760.8 517,761.8 533,758.3 549,754.4 565,749.5 581,766.7 597,767.1 613,769.6 629,769 645,772.5 661,772.9 677,777.8 693,777.8 709,779.7 725,779.7 741,773.3 757,771 773,771 789,771 805,772.5 821,771 837,771 853,773.9 869,769 885,768 901,767.6 917,761.6 933,770 949,761.2 965,757.3 981,756.7 997,756.7 1013,755.7 1029,756.7 1045,755 1061,753.4 1077,750.5 1093,750.5 1109,748.9 1125,750.9 1141,758.9 1157,755.7 1173,755 1189,754.8 1205,754 1221,756.7 1237,752.8 1253,766.7 1269,764.1 1285,766.7" fill="none" stroke="#1e90ff" stroke-width="2" shape-rendering="crispEdges"/>
</g>
<text x="9" y="730" font-size="9.5" fill="#000" stroke="#000" stroke-width="0.2">RSI(14) 54.7118</text>
<text x="1648" y="728" font-size="9.5" fill="#000" stroke="#000" stroke-width="0.2">100</text>
<text x="1648" y="744" font-size="9.5" fill="#000" stroke="#000" stroke-width="0.2">80</text>
<text x="1648" y="775" font-size="9.5" fill="#000" stroke="#000" stroke-width="0.2">50</text>
<text x="1648" y="813" font-size="9.5" fill="#000" stroke="#000" stroke-width="0.2">15</text>
<text x="1648" y="822" font-size="9.5" fill="#000" stroke="#000" stroke-width="0.2">0</text>
<rect x="5" y="826" width="1" height="3" fill="#000"/>
<text x="4" y="838" font-size="9.5" fill="#000" stroke="#000" stroke-width="0.2" textLength="51.7" lengthAdjust="spacingAndGlyphs">27 Mar 2023</text>
<rect x="69" y="826" width="1" height="3" fill="#000"/>
<text x="68" y="838" font-size="9.5" fill="#000" stroke="#000" stroke-width="0.2" textLength="54.3" lengthAdjust="spacingAndGlyphs">28 Mar 04:00</text>
<rect x="133" y="826" width="1" height="3" fill="#000"/>
<text x="132" y="838" font-size="9.5" fill="#000" stroke="#000" stroke-width="0.2" textLength="54.3" lengthAdjust="spacingAndGlyphs">28 Mar 20:00</text>
<rect x="197" y="826" width="1" height="3" fill="#000"/>
<text x="196" y="838" font-size="9.5" fill="#000" stroke="#000" stroke-width="0.2" textLength="54.3" lengthAdjust="spacingAndGlyphs">29 Mar 12:00</text>
<rect x="261" y="826" width="1" height="3" fill="#000"/>
<text x="260" y="838" font-size="9.5" fill="#000" stroke="#000" stroke-width="0.2" textLength="54.3" lengthAdjust="spacingAndGlyphs">30 Mar 04:00</text>
<rect x="325" y="826" width="1" height="3" fill="#000"/>
<text x="324" y="838" font-size="9.5" fill="#000" stroke="#000" stroke-width="0.2" textLength="54.3" lengthAdjust="spacingAndGlyphs">30 Mar 20:00</text>
<rect x="389" y="826" width="1" height="3" fill="#000"/>
<text x="388" y="838" font-size="9.5" fill="#000" stroke="#000" stroke-width="0.2" textLength="54.3" lengthAdjust="spacingAndGlyphs">31 Mar 12:00</text>
<rect x="453" y="826" width="1" height="3" fill="#000"/>
<text x="452" y="838" font-size="9.5" fill="#000" stroke="#000" stroke-width="0.2" textLength="47.1" lengthAdjust="spacingAndGlyphs">3 Apr 04:00</text>
<rect x="517" y="826" width="1" height="3" fill="#000"/>
<text x="516" y="838" font-size="9.5" fill="#000" stroke="#000" stroke-width="0.2" textLength="47.1" lengthAdjust="spacingAndGlyphs">3 Apr 20:00</text>
<rect x="581" y="826" width="1" height="3" fill="#000"/>
<text x="580" y="838" font-size="9.5" fill="#000" stroke="#000" stroke-width="0.2" textLength="47.1" lengthAdjust="spacingAndGlyphs">4 Apr 12:00</text>
<rect x="645" y="826" width="1" height="3" fill="#000"/>
<text x="644" y="838" font-size="9.5" fill="#000" stroke="#000" stroke-width="0.2" textLength="47.1" lengthAdjust="spacingAndGlyphs">5 Apr 04:00</text>
<rect x="709" y="826" width="1" height="3" fill="#000"/>
<text x="708" y="838" font-size="9.5" fill="#000" stroke="#000" stroke-width="0.2" textLength="47.1" lengthAdjust="spacingAndGlyphs">5 Apr 20:00</text>
<rect x="773" y="826" width="1" height="3" fill="#000"/>
<text x="772" y="838" font-size="9.5" fill="#000" stroke="#000" stroke-width="0.2" textLength="47.1" lengthAdjust="spacingAndGlyphs">6 Apr 12:00</text>
<rect x="837" y="826" width="1" height="3" fill="#000"/>
<text x="836" y="838" font-size="9.5" fill="#000" stroke="#000" stroke-width="0.2" textLength="47.1" lengthAdjust="spacingAndGlyphs">7 Apr 04:00</text>
<rect x="901" y="826" width="1" height="3" fill="#000"/>
<text x="900" y="838" font-size="9.5" fill="#000" stroke="#000" stroke-width="0.2" textLength="47.1" lengthAdjust="spacingAndGlyphs">9 Apr 23:00</text>
<rect x="965" y="826" width="1" height="3" fill="#000"/>
<text x="964" y="838" font-size="9.5" fill="#000" stroke="#000" stroke-width="0.2" textLength="52.3" lengthAdjust="spacingAndGlyphs">10 Apr 12:00</text>
<rect x="1029" y="826" width="1" height="3" fill="#000"/>
<text x="1028" y="838" font-size="9.5" fill="#000" stroke="#000" stroke-width="0.2" textLength="51.6" lengthAdjust="spacingAndGlyphs">11 Apr 04:00</text>
<rect x="1093" y="826" width="1" height="3" fill="#000"/>
<text x="1092" y="838" font-size="9.5" fill="#000" stroke="#000" stroke-width="0.2" textLength="51.6" lengthAdjust="spacingAndGlyphs">11 Apr 20:00</text>
<rect x="1157" y="826" width="1" height="3" fill="#000"/>
<text x="1156" y="838" font-size="9.5" fill="#000" stroke="#000" stroke-width="0.2" textLength="52.3" lengthAdjust="spacingAndGlyphs">12 Apr 12:00</text>
<rect x="1221" y="826" width="1" height="3" fill="#000"/>
<text x="1220" y="838" font-size="9.5" fill="#000" stroke="#000" stroke-width="0.2" textLength="52.3" lengthAdjust="spacingAndGlyphs">13 Apr 04:00</text>
<rect x="1285" y="826" width="1" height="3" fill="#000"/>
<text x="1284" y="838" font-size="9.5" fill="#000" stroke="#000" stroke-width="0.2" textLength="52.3" lengthAdjust="spacingAndGlyphs">13 Apr 20:00</text>
</svg></body></html>
